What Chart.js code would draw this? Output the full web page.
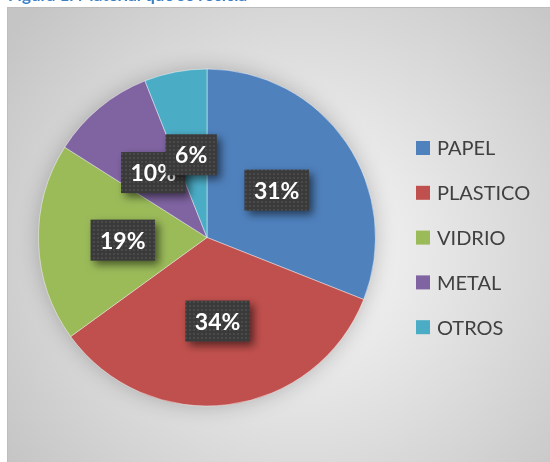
<!DOCTYPE html>
<html>
<head>
<meta charset="utf-8">
<script src="https://cdn.jsdelivr.net/npm/chart.js@4"></script>
<style>
  html, body { margin: 0; padding: 0; background: #fff; }
  canvas { display: block; }
</style>
</head>
<body>
<canvas id="pie-chart" width="550" height="462"></canvas>
<script>
// Chart data
const categories = ['PAPEL', 'PLASTICO', 'VIDRIO', 'METAL', 'OTROS'];
const shares = [31, 34, 19, 10, 6];
const sliceColors = ['#4F81BD', '#C0504D', '#9BBB59', '#8064A2', '#4BACC6'];
const figureTitle = 'Figura 1: Material que se recicla';

// Small dotted tile used as fill for the data label boxes
function makeLabelPattern(ctx) {
    const tile = document.createElement('canvas');
    tile.width = 4;
    tile.height = 4;
    const t = tile.getContext('2d');
    t.fillStyle = '#3a3a3a';
    t.fillRect(0, 0, 4, 4);
    t.fillStyle = '#4a4a4a';
    t.fillRect(1, 1, 2, 2);
    return ctx.createPattern(tile, 'repeat');
}

// Grey frame with a soft radial gradient + the (cut off) caption above it
const backgroundPlugin = {
    id: 'frameBackground',
    beforeDraw(chart) {
        const ctx = chart.ctx;
        ctx.save();
        ctx.fillStyle = '#ffffff';
        ctx.fillRect(0, 0, chart.width, chart.height);

        const grad = ctx.createRadialGradient(300, 250, 10, 300, 250, 360);
        grad.addColorStop(0, '#f9f9f9');
        grad.addColorStop(1, '#c5c5c5');
        ctx.fillStyle = grad;
        ctx.fillRect(7, 7, chart.width - 7, chart.height - 7);
        ctx.strokeStyle = '#bdbdbd';
        ctx.lineWidth = 1;
        ctx.strokeRect(7.5, 7.5, chart.width, chart.height);

        ctx.fillStyle = '#3b7fc4';
        ctx.font = 'bold 17px Lato';
        ctx.textBaseline = 'alphabetic';
        ctx.fillText(figureTitle, 8, 1);
        ctx.restore();
    },
    beforeDatasetsDraw(chart) {
        // soft halo behind the pie
        const arc = chart.getDatasetMeta(0).data[0];
        if (!arc) return;
        const { x, y, outerRadius } = arc.getProps(['x', 'y', 'outerRadius'], true);
        const ctx = chart.ctx;
        ctx.save();
        ctx.shadowColor = 'rgba(0,0,0,0.25)';
        ctx.shadowBlur = 22;
        ctx.fillStyle = '#888';
        ctx.beginPath();
        ctx.arc(x, y, outerRadius - 1, 0, Math.PI * 2);
        ctx.fill();
        ctx.restore();
    }
};

// Percentage labels in dark boxes, half way out on each slice
const boxLabelPlugin = {
    id: 'boxLabels',
    afterDatasetsDraw(chart) {
        const ctx = chart.ctx;
        const meta = chart.getDatasetMeta(0);
        const values = chart.data.datasets[0].data;
        const pattern = makeLabelPattern(ctx);
        ctx.save();
        ctx.font = 'bold 23px Lato';
        ctx.textAlign = 'center';
        ctx.textBaseline = 'middle';
        meta.data.forEach((arc, i) => {
            const p = arc.getProps(['x', 'y', 'startAngle', 'endAngle', 'outerRadius'], true);
            const mid = (p.startAngle + p.endAngle) / 2;
            const cx = p.x + Math.cos(mid) * p.outerRadius * 0.5;
            const cy = p.y + Math.sin(mid) * p.outerRadius * 0.5;
            const text = values[i] + '%';
            const w = ctx.measureText(text).width + 19;
            const h = 41;

            ctx.save();
            ctx.shadowColor = 'rgba(0,0,0,0.55)';
            ctx.shadowBlur = 8;
            ctx.shadowOffsetX = 4;
            ctx.shadowOffsetY = 4;
            ctx.fillStyle = pattern;
            ctx.fillRect(cx - w / 2, cy - h / 2, w, h);
            ctx.restore();

            ctx.fillStyle = '#ffffff';
            ctx.fillText(text, cx, cy + 1);
        });
        ctx.restore();
    }
};

// Legend drawn to the right of the pie
const sideLegendPlugin = {
    id: 'sideLegend',
    afterDraw(chart) {
        const ctx = chart.ctx;
        const colors = chart.data.datasets[0].backgroundColor;
        ctx.save();
        ctx.font = '20px Lato';
        ctx.textBaseline = 'middle';
        chart.data.labels.forEach((label, i) => {
            const y = 148 + i * 44.8;
            ctx.fillStyle = colors[i];
            ctx.fillRect(416, y - 7, 14, 14);
            ctx.fillStyle = '#404040';
            ctx.fillText(label, 437, y + 1);
        });
        ctx.restore();
    }
};

const pieChart = new Chart(document.getElementById('pie-chart'), {
    type: 'pie',
    data: {
        labels: categories,
        datasets: [{
            data: shares,
            backgroundColor: sliceColors,
            borderColor: 'rgba(255,255,255,0.45)',
            borderWidth: 1
        }]
    },
    options: {
        responsive: false,
        animation: false,
        layout: {
            padding: { left: 38, right: 174, top: 68, bottom: 55 }
        },
        plugins: {
            legend: { display: false },
            tooltip: { enabled: false }
        }
    },
    plugins: [backgroundPlugin, boxLabelPlugin, sideLegendPlugin]
});
</script>
</body>
</html>
